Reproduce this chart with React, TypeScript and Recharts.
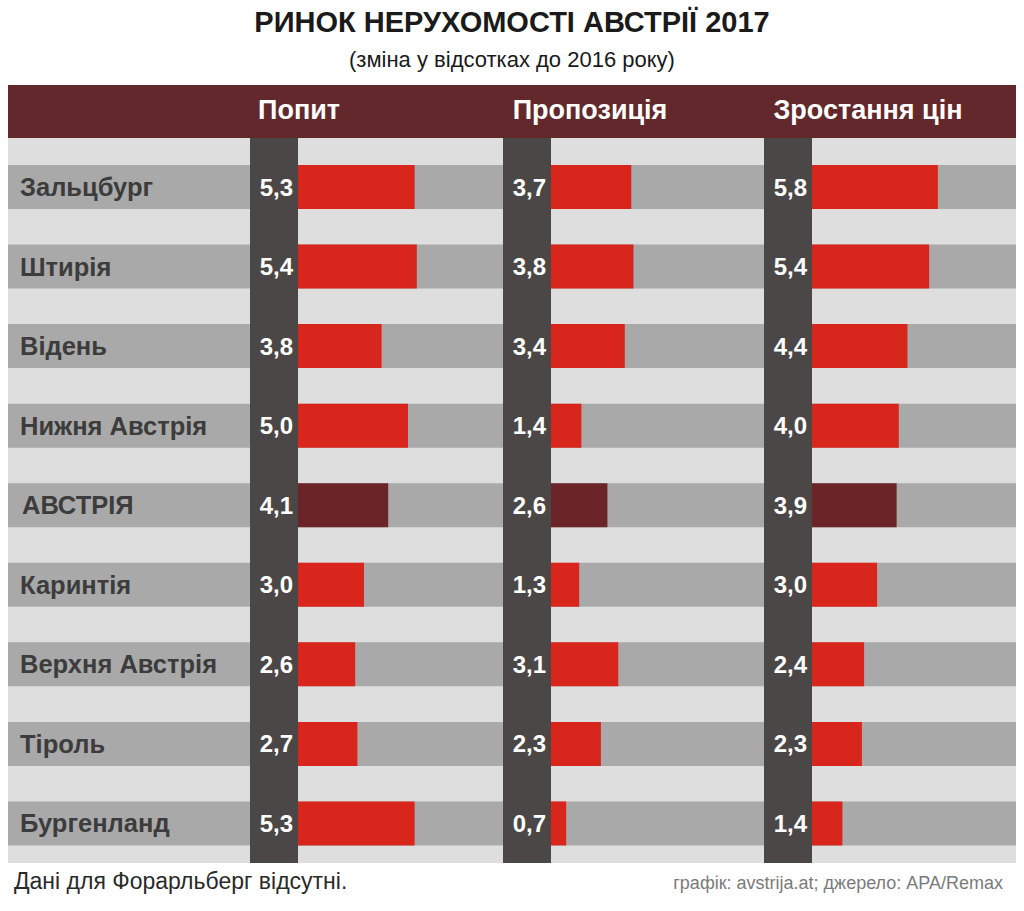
import React from 'react';
import { BarChart, Bar, XAxis, YAxis, ReferenceArea, LabelList, Cell } from 'recharts';

const regions = ['Зальцбург', 'Штирія', 'Відень', 'Нижня Австрія', 'АВСТРІЯ', 'Каринтія', 'Верхня Австрія', 'Тіроль', 'Бургенланд'];
const demand = [5.3, 5.4, 3.8, 5.0, 4.1, 3.0, 2.6, 2.7, 5.3];
const supply = [3.7, 3.8, 3.4, 1.4, 2.6, 1.3, 3.1, 2.3, 0.7];
const prices = [5.8, 5.4, 4.4, 4.0, 3.9, 3.0, 2.4, 2.3, 1.4];
const columnTitles = ['Попит', 'Пропозиція', 'Зростання цін'];
const totalRow = 'АВСТРІЯ';

const data = regions.map((name, i) => ({
  name,
  demand: demand[i],
  supply: supply[i],
  prices: prices[i],
}));

const W = 1024;
const PLOT_LEFT = 8;
const PLOT_W = 1008;
const CONTENT_TOP = 138;
const CONTENT_H = 725;
const TOP_GAP = 9; // light strip above the first row
const STRIP_W = 48;
const BAR_SIZE = 44;
const FONT = '"Liberation Sans", Arial, sans-serif';

// pixel position of the zero line and px per unit for each column
const cols = [
  { key: 'demand', zero: 298, ppu: 22, title: columnTitles[0], titleX: 299 },
  { key: 'supply', zero: 551, ppu: 21.7, title: columnTitles[1], titleX: 590 },
  { key: 'prices', zero: 812, ppu: 21.7, title: columnTitles[2], titleX: 868 },
];

const domainFor = (zero: number, ppu: number): [number, number] => {
  const min = -(zero - PLOT_LEFT) / ppu;
  return [min, min + PLOT_W / ppu];
};

const RED = '#d9261c';
const DARK_RED = '#6b2529';
const STRIP = '#4b4747';

const fmt = (v: number) => v.toFixed(1).replace('.', ',');

// region name, drawn at the left edge of the row
const RegionLabel = (props: any) => {
  const { y, height, value } = props;
  return (
    <text
      x={PLOT_LEFT + (value === totalRow ? 14 : 12)}
      y={Number(y) + Number(height) / 2}
      dy={9}
      fill="#3c3c3c"
      fontSize={25.5}
      fontWeight="bold"
      fontFamily={FONT}
    >
      {value}
    </text>
  );
};

export default function App() {
  return (
    <div style={{ position: 'absolute', left: 0, top: 0, width: W, height: 911, background: '#fff', fontFamily: FONT }}>
      <div style={{ position: 'absolute', top: 6, width: W, textAlign: 'center', fontSize: 29, fontWeight: 'bold', color: '#1a1a1a' }}>
        РИНОК НЕРУХОМОСТІ АВСТРІЇ 2017
      </div>
      <div style={{ position: 'absolute', top: 47, width: W, textAlign: 'center', fontSize: 22, color: '#1a1a1a' }}>
        (зміна у відсотках до 2016 року)
      </div>
      <div style={{ position: 'absolute', top: 85, left: PLOT_LEFT, width: PLOT_W, height: CONTENT_TOP - 85, background: '#63282b' }} />
      {cols.map(c => (
        <div key={c.key} style={{ position: 'absolute', top: 95, left: c.titleX - 150, width: 300, textAlign: 'center', fontSize: 27, fontWeight: 'bold', color: '#fff' }}>
          {c.title}
        </div>
      ))}
      <div style={{ position: 'absolute', top: CONTENT_TOP, left: PLOT_LEFT, width: PLOT_W, height: CONTENT_H, background: '#dedede' }} />
      {cols.map(c => (
        <div key={'p' + c.key} style={{ position: 'absolute', top: CONTENT_TOP, left: c.zero - STRIP_W, width: STRIP_W, height: TOP_GAP + 1, background: STRIP }} />
      ))}
      <div style={{ position: 'absolute', top: CONTENT_TOP + TOP_GAP, left: 0 }}>
        <BarChart
          width={W}
          height={CONTENT_H - TOP_GAP}
          data={data}
          layout="vertical"
          barGap={-BAR_SIZE}
          margin={{ top: 0, right: W - PLOT_LEFT - PLOT_W, bottom: 0, left: PLOT_LEFT }}
        >
          {cols.map((c, i) => (
            <XAxis key={c.key} xAxisId={i} type="number" domain={domainFor(c.zero, c.ppu)} allowDataOverflow hide />
          ))}
          <YAxis dataKey="name" type="category" hide />
          {cols.map((c, i) => (
            <ReferenceArea key={'s' + c.key} xAxisId={i} x1={-STRIP_W / c.ppu} x2={0} fill={STRIP} fillOpacity={1} stroke="none" />
          ))}
          {cols.map((c, i) => (
            <Bar
              key={c.key}
              xAxisId={i}
              dataKey={c.key}
              barSize={BAR_SIZE}
              isAnimationActive={false}
              background={i === 0 ? { fill: '#a9a9a9' } : undefined}
            >
              {data.map(d => (
                <Cell key={d.name} fill={d.name === totalRow ? DARK_RED : RED} />
              ))}
              <LabelList
                dataKey={c.key}
                position="left"
                offset={5}
                fill="#fff"
                fontSize={24}
                fontWeight="bold"
                fontFamily={FONT}
                formatter={(v: any) => fmt(Number(v))}
              />
              {i === 0 && <LabelList dataKey="name" content={<RegionLabel />} />}
            </Bar>
          ))}
        </BarChart>
      </div>
      <div style={{ position: 'absolute', top: 868, left: 14, fontSize: 23, color: '#2a2a2a' }}>
        Дані для Форарльберг відсутні.
      </div>
      <div style={{ position: 'absolute', top: 873, right: 21, fontSize: 18, color: '#7a7a7a' }}>
        графік: avstrija.at; джерело: APA/Remax
      </div>
    </div>
  );
}
